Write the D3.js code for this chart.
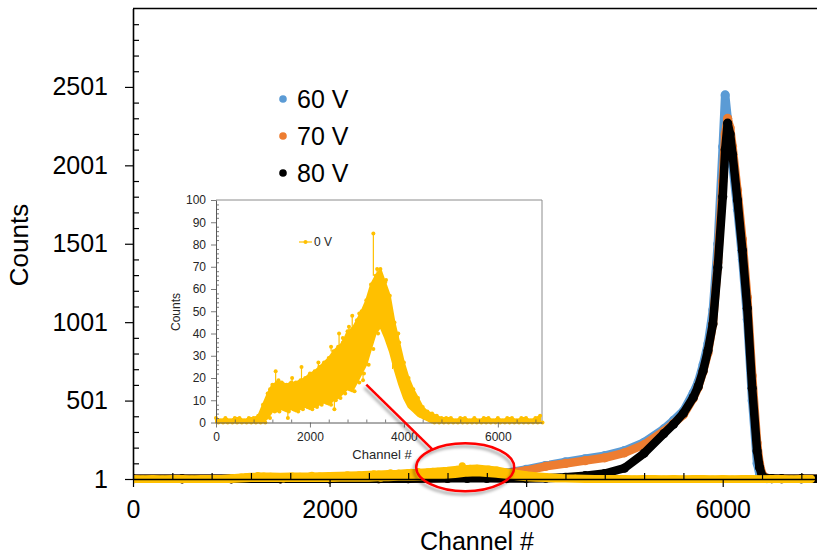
<!DOCTYPE html>
<html>
<head>
<meta charset="utf-8">
<script src="https://cdn.jsdelivr.net/npm/d3@7"></script>
<style>
  body { margin: 0; background: #fff; }
  svg { display: block; font-family: "Liberation Sans", Arial, sans-serif; }
</style>
</head>
<body>
<div id="chart"></div>
<script>
// channels shared by the three bias spectra
const mainChannels = [0, 500, 1000, 1500, 2000, 2500, 2800, 3000, 3200, 3400, 3600, 3800, 4000, 4200, 4400, 4600, 4800, 5000, 5200, 5400, 5500, 5600, 5700, 5750, 5800, 5850, 5900, 5950, 6000, 6025, 6050, 6075, 6100, 6150, 6200, 6250, 6300, 6350, 6375, 6400, 6425, 6450, 6500, 6600, 6800, 7000];
const counts60 = [2, 2, 2, 2, 2, 3, 4, 5, 8, 15, 25, 40, 62, 88, 110, 130, 150, 182, 235, 320, 375, 435, 550, 620, 730, 865, 1080, 1500, 2120, 2450, 2300, 2150, 2000, 1720, 1400, 1020, 500, 100, 30, 8, 5, 4, 3, 3, 2, 2];
const counts70 = [2, 2, 2, 2, 2, 3, 4, 5, 7, 14, 23, 37, 55, 82, 100, 118, 136, 168, 220, 305, 355, 410, 515, 585, 685, 805, 990, 1380, 1900, 2200, 2300, 2240, 2120, 1840, 1530, 1160, 660, 230, 100, 35, 12, 6, 4, 3, 3, 3];
const counts80 = [2, 2, 2, 2, 2, 3, 3, 4, 5, 5, 5, 4, 4, 6, 12, 22, 36, 70, 165, 290, 350, 420, 520, 590, 690, 820, 990, 1350, 1800, 2100, 2270, 2200, 2070, 1780, 1460, 1090, 580, 180, 75, 22, 8, 5, 4, 3, 3, 3];

// 0 V spectrum: upper and lower edge of the noisy band every 100 channels
const zeroChannels = [0, 100, 200, 300, 400, 500, 600, 700, 800, 900, 1000, 1100, 1200, 1300, 1400, 1500, 1600, 1700, 1800, 1900, 2000, 2100, 2200, 2300, 2400, 2500, 2600, 2700, 2800, 2900, 3000, 3100, 3200, 3300, 3400, 3500, 3600, 3700, 3800, 3900, 4000, 4100, 4200, 4300, 4400, 4500, 4600, 4700, 4800, 4900, 5000, 5100, 5200, 5300, 5400, 5500, 5600, 5700, 5800, 5900, 6000, 6100, 6200, 6300, 6400, 6500, 6600, 6700, 6800, 6900];
const zeroTop = [2, 1, 2, 1, 2, 2, 1, 2, 2, 3, 8, 13, 17, 18, 18, 17, 18, 18, 19, 20, 22, 23, 25, 27, 29, 32, 34, 36, 41, 42, 46, 50, 55, 62, 66, 69, 63, 57, 45, 36, 27, 20, 15, 11, 7, 5, 4, 3, 2, 2, 2, 1, 2, 2, 1, 2, 1, 2, 2, 1, 2, 1, 2, 2, 1, 2, 2, 1, 2, 3];
const zeroBottom = [0, 0, 0, 0, 0, 0, 0, 0, 0, 0, 0, 2, 5, 5, 6, 5, 6, 5, 6, 7, 6, 7, 8, 9, 8, 10, 11, 13, 15, 14, 18, 22, 26, 33, 40, 43, 38, 32, 24, 17, 11, 7, 5, 3, 2, 1, 0, 0, 0, 0, 0, 0, 0, 0, 0, 0, 0, 0, 0, 0, 0, 0, 0, 0, 0, 0, 0, 0, 0, 0];
// single channels that stick out of the band
const spikeChannels = [1150, 1270, 1330, 1530, 1620, 1820, 2180, 2450, 2520, 2620, 2700, 2830, 2900, 3050, 3130, 3350, 3430, 3620, 3760, 3880];
const spikeCounts = [15, 23, 19, 2, 20, 25, 27, 34, 6, 40, 38, 43, 48, 49, 19, 85, 69, 64, 45, 40];

const yTickLabels = [1, 501, 1001, 1501, 2001, 2501];
const xTickLabels = [0, 2000, 4000, 6000];
const insetYTicks = [0, 10, 20, 30, 40, 50, 60, 70, 80, 90, 100];
const insetXTicks = [0, 2000, 4000, 6000];

const series = [
  { name: "60 V", color: "#5B9BD5", values: counts60 },
  { name: "70 V", color: "#ED7D31", values: counts70 },
  { name: "80 V", color: "#000000", values: counts80 },
];
const zeroColor = "#FFC000";
const fmt = d3.format("d");

const width = 817;
const height = 557;

const svg = d3.select("#chart").append("svg")
  .attr("width", width)
  .attr("height", height);

const defs = svg.append("defs");
defs.append("clipPath").attr("id", "plotClip")
  .append("rect").attr("x", 133).attr("y", 0).attr("width", 700).attr("height", 500);
defs.append("filter").attr("id", "shadow")
  .attr("x", "-20%").attr("y", "-20%").attr("width", "140%").attr("height", "140%")
  .append("feDropShadow")
  .attr("dx", -2).attr("dy", 3).attr("stdDeviation", 1.8)
  .attr("flood-color", "#000").attr("flood-opacity", 0.35);

// main scales
const x = d3.scaleLinear().domain([0, 7000]).range([133, 821]);
const y = d3.scaleLinear().domain([1, 3001]).range([479, 8.5]);

const zeroBand = zeroChannels.map((c, i) => ({ c: c, top: zeroTop[i], bottom: zeroBottom[i] }));
const zeroEdge = zeroBand.flatMap((d) => [[d.c, d.top], [d.c + 50, d.bottom]]);
const spikes = spikeChannels.map((c, i) => {
  const near = zeroBand[Math.min(zeroBand.length - 1, Math.round(c / 100))];
  return { c: c, v: spikeCounts[i], base: spikeCounts[i] > near.top ? near.top : near.bottom };
});

//draw main series
const plot = svg.append("g").attr("clip-path", "url(#plotClip)");
const mainLine = d3.line().x((d) => x(d[0])).y((d) => y(d[1]));

series.forEach((s) => {
  const points = mainChannels.map((c, i) => [c, s.values[i]]);
  plot.append("path")
    .datum(points)
    .attr("fill", "none")
    .attr("stroke", s.color)
    .attr("stroke-width", 8.5)
    .attr("stroke-linejoin", "round")
    .attr("stroke-linecap", "round")
    .attr("d", mainLine);
  plot.append("g")
    .selectAll("circle")
    .data(points)
    .join("circle")
    .attr("cx", (d) => x(d[0]))
    .attr("cy", (d) => y(d[1]))
    .attr("r", 4.6)
    .attr("fill", s.color);
});

// 0 V band in the main plot
const mainArea = d3.area()
  .x((d) => x(d.c))
  .y0((d) => y(d.bottom))
  .y1((d) => y(d.top));
plot.append("path")
  .datum(zeroBand)
  .attr("fill", zeroColor)
  .attr("stroke", zeroColor)
  .attr("stroke-width", 7.5)
  .attr("stroke-linejoin", "round")
  .attr("d", mainArea);
plot.append("g")
  .selectAll("circle")
  .data(zeroEdge.filter((d, i) => i % 2 === 0).concat(spikes.map((d) => [d.c, d.v])))
  .join("circle")
  .attr("cx", (d) => x(d[0]))
  .attr("cy", (d) => y(d[1]))
  .attr("r", 3.6)
  .attr("fill", zeroColor);

// main axes
const yAxis = svg.append("g")
  .attr("transform", "translate(133,0)")
  .call(d3.axisLeft(y).tickValues(yTickLabels).tickFormat(fmt).tickSizeInner(8).tickSizeOuter(0).tickPadding(17));
svg.append("g")
  .attr("transform", "translate(133,0)")
  .call(d3.axisRight(y).tickValues(d3.range(101, 3001, 100).filter((v) => !yTickLabels.includes(v))).tickSize(6).tickFormat(""))
  .call((g) => g.select(".domain").remove());

const xAxis = svg.append("g")
  .attr("transform", "translate(0,479)")
  .call(d3.axisBottom(x).tickValues(xTickLabels).tickFormat(fmt).tickSizeInner(8).tickSizeOuter(0).tickPadding(13));
svg.append("g")
  .attr("transform", "translate(0,479)")
  .call(d3.axisTop(x).tickValues(d3.range(400, 7000, 400).filter((v) => !xTickLabels.includes(v))).tickSize(6).tickFormat(""))
  .call((g) => g.select(".domain").remove());

svg.selectAll(".tick line").attr("stroke", "#000").attr("stroke-width", 1.2);
svg.selectAll(".domain").attr("stroke", "#000").attr("stroke-width", 1.6);
yAxis.selectAll("text").attr("font-size", 25).attr("fill", "#000").attr("font-family", null);
xAxis.selectAll("text").attr("font-size", 25).attr("fill", "#000").attr("font-family", null);

// top and right frame
svg.append("path")
  .attr("d", `M${x(0)},${y(3001)}H${x(7000)}V${y(1)}`)
  .attr("fill", "none")
  .attr("stroke", "#000")
  .attr("stroke-width", 1.6);

svg.append("text")
  .attr("transform", "translate(28,245) rotate(-90)")
  .attr("text-anchor", "middle")
  .attr("font-size", 26)
  .text("Counts");
svg.append("text")
  .attr("x", 477).attr("y", 550)
  .attr("text-anchor", "middle")
  .attr("font-size", 25)
  .text("Channel #");

// main legend
const legend = svg.append("g");
series.forEach((s, i) => {
  const ly = 99 + i * 37;
  legend.append("circle").attr("cx", 283).attr("cy", ly).attr("r", 3.8).attr("fill", s.color);
  legend.append("text").attr("x", 297).attr("y", ly).attr("dy", "0.35em")
    .attr("font-size", 25).text(s.name);
});

// inset
const ix = d3.scaleLinear().domain([0, 6940]).range([216, 542]);
const iy = d3.scaleLinear().domain([0, 100]).range([422.5, 200]);

const inset = svg.append("g");
inset.append("rect")
  .attr("x", 165).attr("y", 188).attr("width", 384).attr("height", 273)
  .attr("fill", "#fff");

inset.append("path")
  .attr("d", `M${ix(0)},${iy(100)}H${ix(6940)}V${iy(0)}`)
  .attr("fill", "none")
  .attr("stroke", "#8c8c8c")
  .attr("stroke-width", 1);

const insetArea = d3.area()
  .x((d) => ix(d.c))
  .y0((d) => iy(d.bottom))
  .y1((d) => iy(d.top));
inset.append("path")
  .datum(zeroBand)
  .attr("fill", zeroColor)
  .attr("stroke", zeroColor)
  .attr("stroke-width", 2)
  .attr("stroke-linejoin", "round")
  .attr("d", insetArea);
inset.append("g")
  .selectAll("line")
  .data(spikes)
  .join("line")
  .attr("x1", (d) => ix(d.c)).attr("x2", (d) => ix(d.c))
  .attr("y1", (d) => iy(d.base)).attr("y2", (d) => iy(d.v))
  .attr("stroke", zeroColor)
  .attr("stroke-width", 1.2);
inset.append("g")
  .selectAll("circle")
  .data(zeroEdge.concat(spikes.map((d) => [d.c, d.v])))
  .join("circle")
  .attr("cx", (d) => ix(d[0]))
  .attr("cy", (d) => iy(d[1]))
  .attr("r", 2)
  .attr("fill", zeroColor);

const iyAxis = inset.append("g")
  .attr("transform", `translate(${ix(0)},0)`)
  .call(d3.axisLeft(iy).tickValues(insetYTicks).tickFormat(fmt).tickSizeInner(5).tickSizeOuter(0).tickPadding(5));
inset.append("g")
  .attr("transform", `translate(${ix(0)},0)`)
  .call(d3.axisRight(iy).tickValues(d3.range(2, 100, 2).filter((v) => v % 10 !== 0)).tickSize(3).tickFormat(""))
  .call((g) => g.select(".domain").remove());
const ixAxis = inset.append("g")
  .attr("transform", `translate(0,${iy(0)})`)
  .call(d3.axisBottom(ix).tickValues(insetXTicks).tickFormat(fmt).tickSizeInner(5).tickSizeOuter(0).tickPadding(5));
inset.append("g")
  .attr("transform", `translate(0,${iy(0)})`)
  .call(d3.axisTop(ix).tickValues(d3.range(400, 6940, 400).filter((v) => v % 2000 !== 0)).tickSize(3).tickFormat(""))
  .call((g) => g.select(".domain").remove());

inset.selectAll(".tick line").attr("stroke", "#595959").attr("stroke-width", 0.8);
inset.selectAll(".domain").attr("stroke", "#595959").attr("stroke-width", 1);
inset.selectAll("text").attr("font-size", 12).attr("fill", "#262626").attr("font-family", null);

inset.append("text")
  .attr("transform", "translate(180,312) rotate(-90)")
  .attr("text-anchor", "middle")
  .attr("font-size", 12)
  .attr("fill", "#262626")
  .text("Counts");
inset.append("text")
  .attr("x", 382).attr("y", 459)
  .attr("text-anchor", "middle")
  .attr("font-size", 13)
  .attr("fill", "#262626")
  .text("Channel #");

inset.append("line")
  .attr("x1", 299).attr("x2", 312).attr("y1", 242).attr("y2", 242)
  .attr("stroke", zeroColor).attr("stroke-width", 1.2);
inset.append("circle").attr("cx", 305.5).attr("cy", 242).attr("r", 2).attr("fill", zeroColor);
inset.append("text").attr("x", 314).attr("y", 242).attr("dy", "0.35em")
  .attr("font-size", 12).attr("fill", "#262626").text("0 V");

// red callout: ellipse round the 0 V bump in the main plot, line to the inset
const ellipse = { cx: x(3380), cy: y(76), rx: 49, ry: 24 };
const angle = (228 * Math.PI) / 180;
const callout = svg.append("g").attr("filter", "url(#shadow)");
callout.append("ellipse")
  .attr("cx", ellipse.cx).attr("cy", ellipse.cy)
  .attr("rx", ellipse.rx).attr("ry", ellipse.ry)
  .attr("fill", "none")
  .attr("stroke", "#FF0000")
  .attr("stroke-width", 2.5);
callout.append("line")
  .attr("x1", ix(3200)).attr("y1", iy(17))
  .attr("x2", ellipse.cx + ellipse.rx * Math.cos(angle))
  .attr("y2", ellipse.cy + ellipse.ry * Math.sin(angle))
  .attr("stroke", "#FF0000")
  .attr("stroke-width", 2.5);
</script>
</body>
</html>
